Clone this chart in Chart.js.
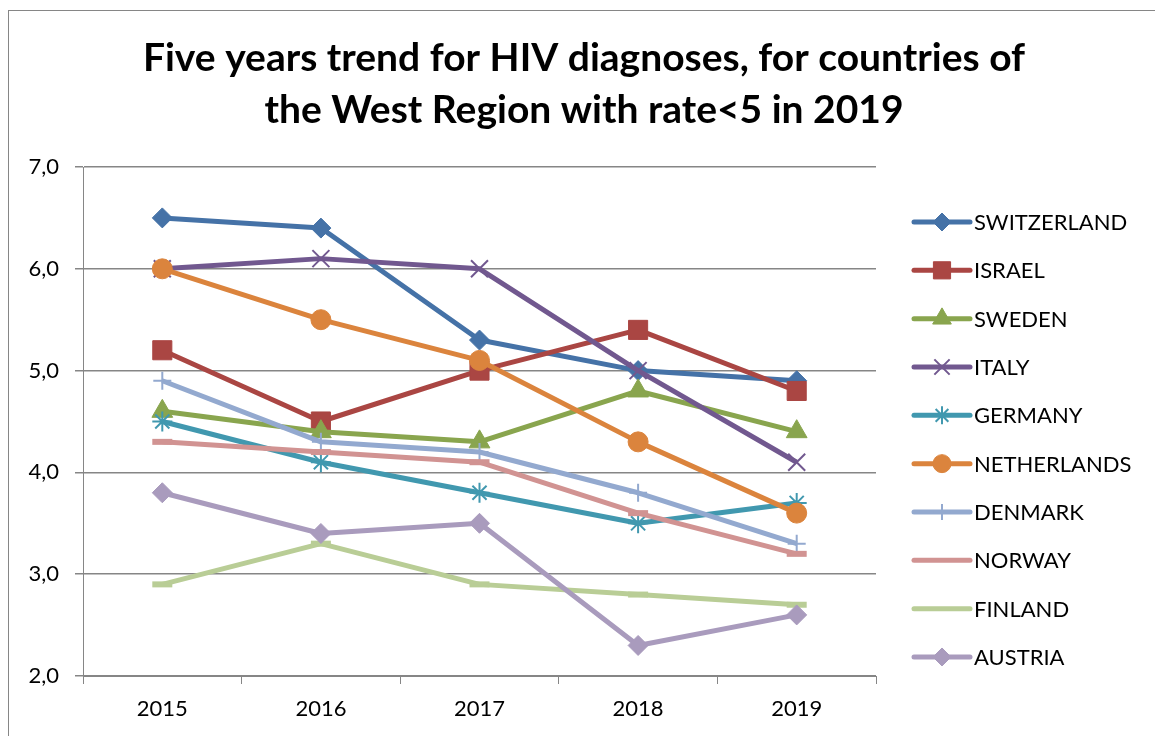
<!DOCTYPE html>
<html>
<head>
<meta charset="utf-8">
<script src="https://cdn.jsdelivr.net/npm/chart.js@4/dist/chart.umd.min.js"></script>
<style>
  html, body { margin: 0; padding: 0; background: #ffffff; }
  #wrap { width: 1155px; height: 736px; position: relative; }
</style>
</head>
<body>
<div id="wrap"><canvas id="c" width="1155" height="736"></canvas></div>
<script>
// ---- data ----
const titleLines = ['Five years trend for HIV diagnoses, for countries of', 'the West Region with rate<5 in 2019'];
const years = ['2015', '2016', '2017', '2018', '2019'];
const yTickLabels = ['2,0', '3,0', '4,0', '5,0', '6,0', '7,0'];
const countries = ['SWITZERLAND', 'ISRAEL', 'SWEDEN', 'ITALY', 'GERMANY', 'NETHERLANDS', 'DENMARK', 'NORWAY', 'FINLAND', 'AUSTRIA'];
const switzerland = [6.5, 6.4, 5.3, 5.0, 4.9];
const israel      = [5.2, 4.5, 5.0, 5.4, 4.8];
const sweden      = [4.6, 4.4, 4.3, 4.8, 4.4];
const italy       = [6.0, 6.1, 6.0, 5.0, 4.1];
const germany     = [4.5, 4.1, 3.8, 3.5, 3.7];
const netherlands = [6.0, 5.5, 5.1, 4.3, 3.6];
const denmark     = [4.9, 4.3, 4.2, 3.8, 3.3];
const norway      = [4.3, 4.2, 4.1, 3.6, 3.2];
const finland     = [2.9, 3.3, 2.9, 2.8, 2.7];
const austria     = [3.8, 3.4, 3.5, 2.3, 2.6];
const seriesValues = [switzerland, israel, sweden, italy, germany, netherlands, denmark, norway, finland, austria];

// ---- styles ----
const colors = ['#4572A7', '#AA4643', '#89A54E', '#71588F', '#4198AF', '#DB843D', '#93A9CF', '#D19392', '#B9CD96', '#A99BBD'];
const pointStyles = ['rectRot', 'rect', 'triangle', 'crossRot', 'star', 'circle', 'cross', 'line', 'line', 'rectRot'];
const pointRadii = [10, 13.5, 12, 12, 10, 10, 9, 10, 10, 10];
const pointBorderWidths = [1, 1, 1, 2, 2, 1, 2, 6, 6, 1];
const FONT = 'Lato, "Open Sans", sans-serif';
const AXIS = '#868686';

const datasets = countries.map((name, i) => ({
  label: name,
  data: seriesValues[i],
  borderColor: colors[i],
  backgroundColor: colors[i],
  borderWidth: 5,
  borderJoinStyle: 'round',
  tension: 0,
  pointStyle: pointStyles[i],
  pointRadius: pointRadii[i],
  pointHoverRadius: pointRadii[i],
  pointBorderWidth: pointBorderWidths[i],
  pointBackgroundColor: colors[i],
  pointBorderColor: colors[i],
  order: countries.length - i
}));

const decor = {
  id: 'decor',
  afterDraw(chart) {
    const ctx = chart.ctx;
    ctx.save();
    // outer frame
    ctx.strokeStyle = AXIS;
    ctx.lineWidth = 1;
    ctx.strokeRect(8.5, 10.5, 1300, 900);
    // title
    ctx.fillStyle = '#000000';
    ctx.font = 'bold 39px ' + FONT;
    ctx.textAlign = 'center';
    ctx.textBaseline = 'middle';
    ctx.fillText(titleLines[0], 584, 58);
    ctx.fillText(titleLines[1], 584, 110);
    // legend
    const lx0 = 914, lx1 = 970, ty0 = 222, step = 48.33;
    chart.data.datasets.forEach((ds, i) => {
      const y = ty0 + i * step;
      ctx.strokeStyle = ds.borderColor;
      ctx.lineWidth = 5;
      ctx.lineCap = 'round';
      ctx.beginPath();
      ctx.moveTo(lx0, y);
      ctx.lineTo(lx1, y);
      ctx.stroke();
      ctx.lineCap = 'butt';
      if (ds.pointStyle !== 'line') {
        ctx.fillStyle = ds.pointBackgroundColor;
        ctx.strokeStyle = ds.pointBorderColor;
        ctx.lineWidth = ds.pointBorderWidth;
        Chart.helpers.drawPoint(ctx, {pointStyle: ds.pointStyle, rotation: 0, radius: ds.pointRadius * 0.9, borderWidth: ds.pointBorderWidth}, (lx0 + lx1) / 2, y);
      }
      ctx.fillStyle = '#000000';
      ctx.font = '22px ' + FONT;
      ctx.textAlign = 'left';
      ctx.textBaseline = 'middle';
      ctx.fillText(ds.label, 974, y + 1);
    });
    ctx.restore();
  }
};

new Chart(document.getElementById('c'), {
  type: 'line',
  data: { labels: years, datasets },
  options: {
    responsive: false,
    animation: false,
    events: [],
    layout: { padding: { left: 0, right: 279, top: 167, bottom: 0 } },
    plugins: {
      legend: { display: false },
      title: { display: false },
      tooltip: { enabled: false }
    },
    scales: {
      x: {
        offset: true,
        afterFit(scale) { scale.height = 60; },
        grid: { display: true, drawOnChartArea: false, drawTicks: true, tickLength: 8, color: AXIS, lineWidth: 1, offset: true },
        border: { display: true, color: AXIS, width: 1 },
        ticks: { color: '#000000', font: { family: FONT, size: 22 }, padding: 12 }
      },
      y: {
        min: 2, max: 7,
        afterFit(scale) { scale.width = 83; },
        grid: { display: true, drawOnChartArea: true, drawTicks: true, tickLength: 8, color: AXIS, lineWidth: 1.5 },
        border: { display: true, color: AXIS, width: 1 },
        ticks: {
          stepSize: 1,
          color: '#000000',
          font: { family: FONT, size: 22 },
          padding: 16,
          callback: (v) => yTickLabels[Math.round(v) - 2]
        }
      }
    }
  },
  plugins: [decor]
});
</script>
</body>
</html>
